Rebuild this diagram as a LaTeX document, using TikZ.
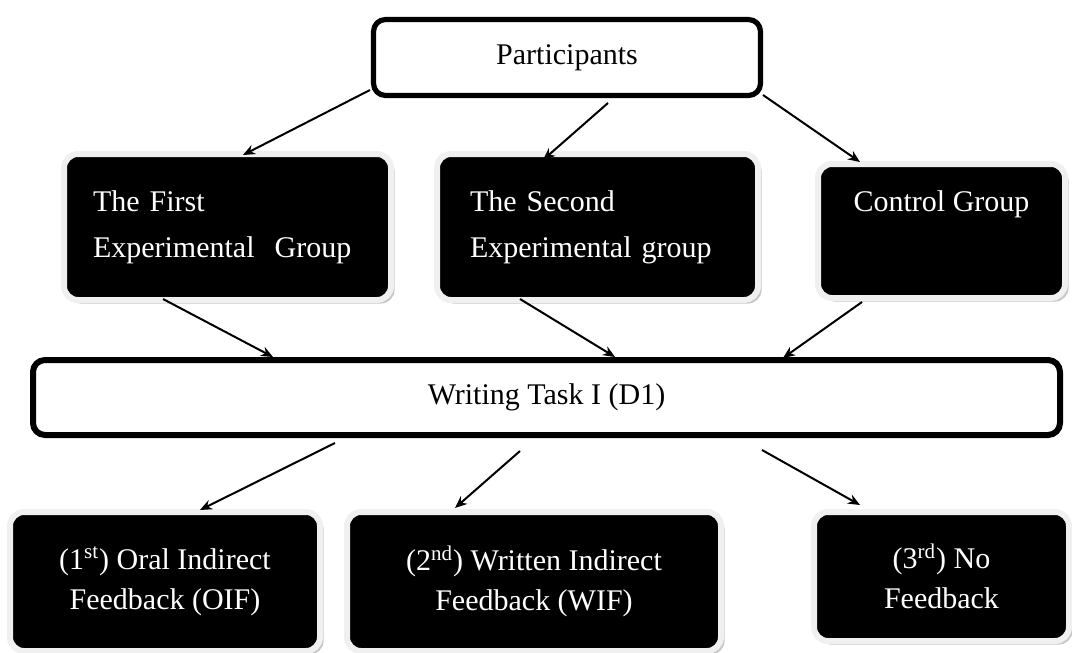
\documentclass[tikz,border=0pt]{standalone}
\usepackage{fontspec}
\setmainfont{Liberation Serif}
\usetikzlibrary{arrows.meta,shadows}
\tikzstyle{darkbox}=[rounded corners=7pt,fill=black,draw=gray!12,line width=3pt,text=white,
  drop shadow={shadow xshift=1.8pt,shadow yshift=-1.8pt,fill=gray!45,opacity=1}]
\tikzstyle{whitebox}=[rounded corners=6pt,fill=white,draw=black]
\tikzstyle{link}=[-{Stealth[length=6pt,width=5pt]},line width=1pt]

\begin{document}
\begin{tikzpicture}[x=0.5pt,y=-0.5pt,font=\fontsize{15}{23}\selectfont]
    \useasboundingbox (0,0) rectangle (1072,653);
    % top level
    \node[whitebox,line width=2.6pt,minimum width=193.5pt,minimum height=38pt] (part) at (567,57.5) {Participants};
    % groups
    \node[darkbox,minimum width=163.5pt,minimum height=73pt,text width=134.5pt,align=left] (first) at (227.5,227) {The First\\Experimental~ Group};
    \node[darkbox,minimum width=160.5pt,minimum height=73pt,text width=127.5pt,align=left] (second) at (597.5,227) {The Second\\Experimental group};
    \node[darkbox,minimum width=123.5pt,minimum height=67pt,align=center] (control) at (941.5,231) {Control Group\\ \strut};
    % task
    \node[whitebox,line width=3pt,minimum width=513.5pt,minimum height=37.5pt] (task) at (546.5,397.5) {Writing~Task I (D1)};
    % feedback types
    \tikzstyle{fbbox}=[darkbox,align=center,font=\fontsize{15}{20}\selectfont]
    \node[fbbox,minimum width=155pt,minimum height=69.5pt] (oif) at (165,581.5) {(1\textsuperscript{st}) Oral Indirect\\Feedback (OIF)};
    \node[fbbox,minimum width=187pt,minimum height=69.5pt] (wif) at (534,581.5) {(2\textsuperscript{nd}) Written Indirect\\Feedback (WIF)};
    \node[fbbox,minimum width=127.5pt,minimum height=64.5pt] (nofb) at (941.5,576.5) {(3\textsuperscript{rd}) No\\Feedback};
    % arrow ends
    \coordinate (part-a) at (370,90);   \coordinate (first-in) at (243,155);
    \coordinate (part-b) at (608,103);  \coordinate (second-in) at (543,160);
    \coordinate (part-c) at (763,95);   \coordinate (control-in) at (860,162);
    \coordinate (first-out) at (163,299);   \coordinate (task-a) at (273,357);
    \coordinate (second-out) at (520,299);  \coordinate (task-b) at (615,357);
    \coordinate (control-out) at (862,302); \coordinate (task-c) at (783,358);
    \coordinate (task-d) at (335,443); \coordinate (oif-in) at (200,510);
    \coordinate (task-e) at (520,451); \coordinate (wif-in) at (455,508);
    \coordinate (task-f) at (762,450); \coordinate (nofb-in) at (860,505);
    \draw[link] (part-a) -- (first-in);
    \draw[link] (part-b) -- (second-in);
    \draw[link] (part-c) -- (control-in);
    \draw[link] (first-out) -- (task-a);
    \draw[link] (second-out) -- (task-b);
    \draw[link] (control-out) -- (task-c);
    \draw[link] (task-d) -- (oif-in);
    \draw[link] (task-e) -- (wif-in);
    \draw[link] (task-f) -- (nofb-in);
\end{tikzpicture}
\end{document}
